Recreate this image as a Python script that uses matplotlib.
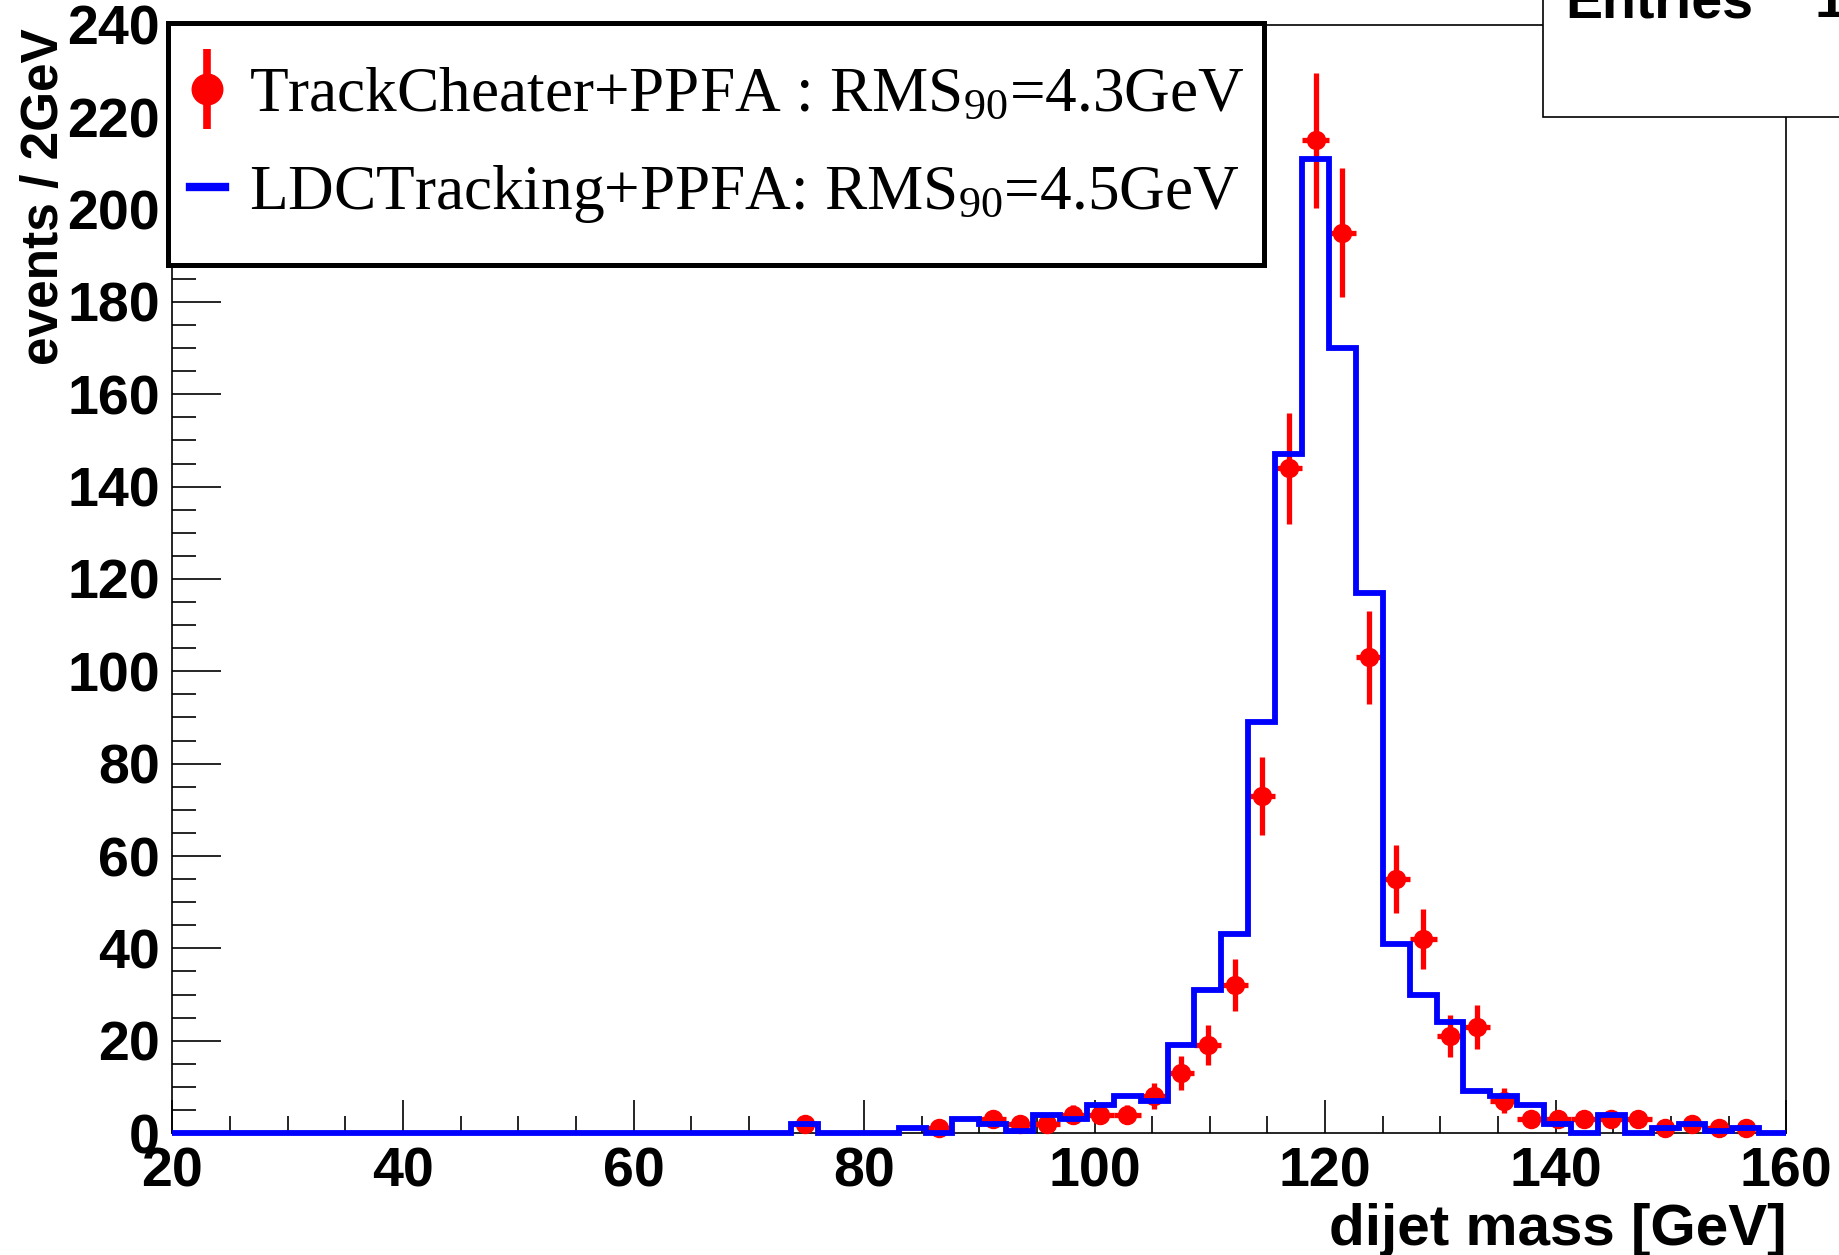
"""
Masa dijet: TrackCheater+PPFA (puntos) frente a LDCTracking+PPFA (histograma).
"""
import numpy as np

import matplotlib
matplotlib.use("Agg")
import matplotlib.pyplot as plt
from matplotlib.lines import Line2D
from matplotlib.patches import Rectangle
from matplotlib.ticker import MultipleLocator

# 60 bins entre 20 y 160 GeV
X_MIN, X_MAX, N_BINS = 20, 160, 60

# TrackCheater+PPFA (cuentas por bin)
cheater = [
    0, 0, 0, 0, 0, 0, 0, 0, 0, 0,
    0, 0, 0, 0, 0, 0, 0, 0, 0, 0,
    0, 0, 0, 2, 0, 0, 0, 0, 1, 0,
    3, 2, 2, 4, 4, 4, 8, 13, 19, 32,
    73, 144, 215, 195, 103, 55, 42, 21, 23, 7,
    3, 3, 3, 3, 3, 1, 2, 1, 1, 0,
]

# LDCTracking+PPFA (cuentas por bin)
ldc = [
    0, 0, 0, 0, 0, 0, 0, 0, 0, 0,
    0, 0, 0, 0, 0, 0, 0, 0, 0, 0,
    0, 0, 0, 2, 0, 0, 0, 1, 0, 3,
    2, 0.5, 4, 3, 6, 8, 7, 19, 31, 43,
    89, 147, 211, 170, 117, 41, 30, 24, 9, 8,
    6, 2, 0, 4, 0, 1, 2, 0.5, 1, 0,
]

label_cheater = "TrackCheater+PPFA : RMS$_{90}$=4.3GeV"
label_ldc = "LDCTracking+PPFA: RMS$_{90}$=4.5GeV"

plt.rcParams["font.family"] = ["Liberation Sans", "DejaVu Sans"]
plt.rcParams["mathtext.fontset"] = "custom"
plt.rcParams["mathtext.rm"] = "Liberation Serif"
plt.rcParams["mathtext.it"] = "Liberation Serif"


def main():
    edges = np.linspace(X_MIN, X_MAX, N_BINS + 1)
    centers = 0.5 * (edges[:-1] + edges[1:])
    width = edges[1] - edges[0]
    y_red = np.array(cheater, dtype=float)
    y_blue = np.array(ldc, dtype=float)
    ok = y_red > 0

    fig = plt.figure(figsize=(18.4, 12.55), dpi=100)
    ax = fig.add_axes([0.09375, 0.0972, 0.8770, 0.8829])

    ax.errorbar(centers[ok], y_red[ok], yerr=np.sqrt(y_red[ok]), xerr=width / 2,
                fmt="o", color="red", ms=13, elinewidth=3.8, capsize=0,
                zorder=3, clip_on=False)
    ax.stairs(y_blue, edges, color="blue", lw=4.2, zorder=4, clip_on=False)

    ax.set_xlim(X_MIN, X_MAX)
    ax.set_ylim(0, 240)
    ax.xaxis.set_major_locator(MultipleLocator(20))
    ax.xaxis.set_minor_locator(MultipleLocator(5))
    ax.yaxis.set_major_locator(MultipleLocator(20))
    ax.yaxis.set_minor_locator(MultipleLocator(5))
    ax.tick_params(axis="both", which="both", direction="in", width=1.2,
                   labelsize=40)
    ax.tick_params(axis="x", which="major", length=24, pad=10)
    ax.tick_params(axis="x", which="minor", length=12)
    ax.tick_params(axis="y", which="major", length=35, pad=9)
    ax.tick_params(axis="y", which="minor", length=17)
    for lab in ax.get_xticklabels() + ax.get_yticklabels():
        lab.set_fontweight("bold")
    for sp in ax.spines.values():
        sp.set_linewidth(1.2)

    ax.set_xlabel("dijet mass [GeV]", fontsize=42, fontweight="bold", loc="right")
    ax.xaxis.set_label_coords(1.0, -0.063)
    ax.set_ylabel("events / 2GeV", fontsize=37, fontweight="bold", loc="top")
    ax.yaxis.set_label_coords(-0.064, 0.997)

    # leyenda: marco propio (mas alto que el de matplotlib) + entradas sin marco
    ax.add_patch(Rectangle((-0.0028, 0.7831), 0.6791, 0.2183, transform=ax.transAxes,
                           facecolor="white", edgecolor="black", lw=3.6,
                           zorder=6, clip_on=False))
    h_red = (Line2D([], [], color="red", marker="|", markersize=57, mew=5.5, ls="none"),
             Line2D([], [], color="red", marker="o", markersize=22, ls="none"))
    h_blue = Line2D([], [], color="blue", lw=6)
    leg = ax.legend([h_red, h_blue], [label_cheater, label_ldc],
                    loc="upper left", bbox_to_anchor=(-0.0028, 0.9824),
                    borderaxespad=0, prop={"family": "Liberation Serif", "size": 45.5},
                    numpoints=1, handlelength=0.55, handletextpad=0.38,
                    borderpad=0.35, labelspacing=0.6, frameon=False)
    leg.set_zorder(7)

    # caja de estadisticas (recortada por el borde)
    fig.add_artist(Rectangle((0.8386, 0.907), 0.3, 0.3, transform=fig.transFigure,
                             facecolor="white", edgecolor="black", lw=1.2,
                             zorder=10, clip_on=False))
    fig.text(1565 / 1840, 1 - 17 / 1255, "Entries", fontsize=40, fontweight="bold",
             ha="left", va="baseline", zorder=11)
    fig.text(1815 / 1840, 1 - 17 / 1255, "10", fontsize=40, fontweight="bold",
             ha="left", va="baseline", zorder=11)

    fig.savefig("out.png", dpi=100)
    plt.close(fig)


if __name__ == "__main__":
    main()
